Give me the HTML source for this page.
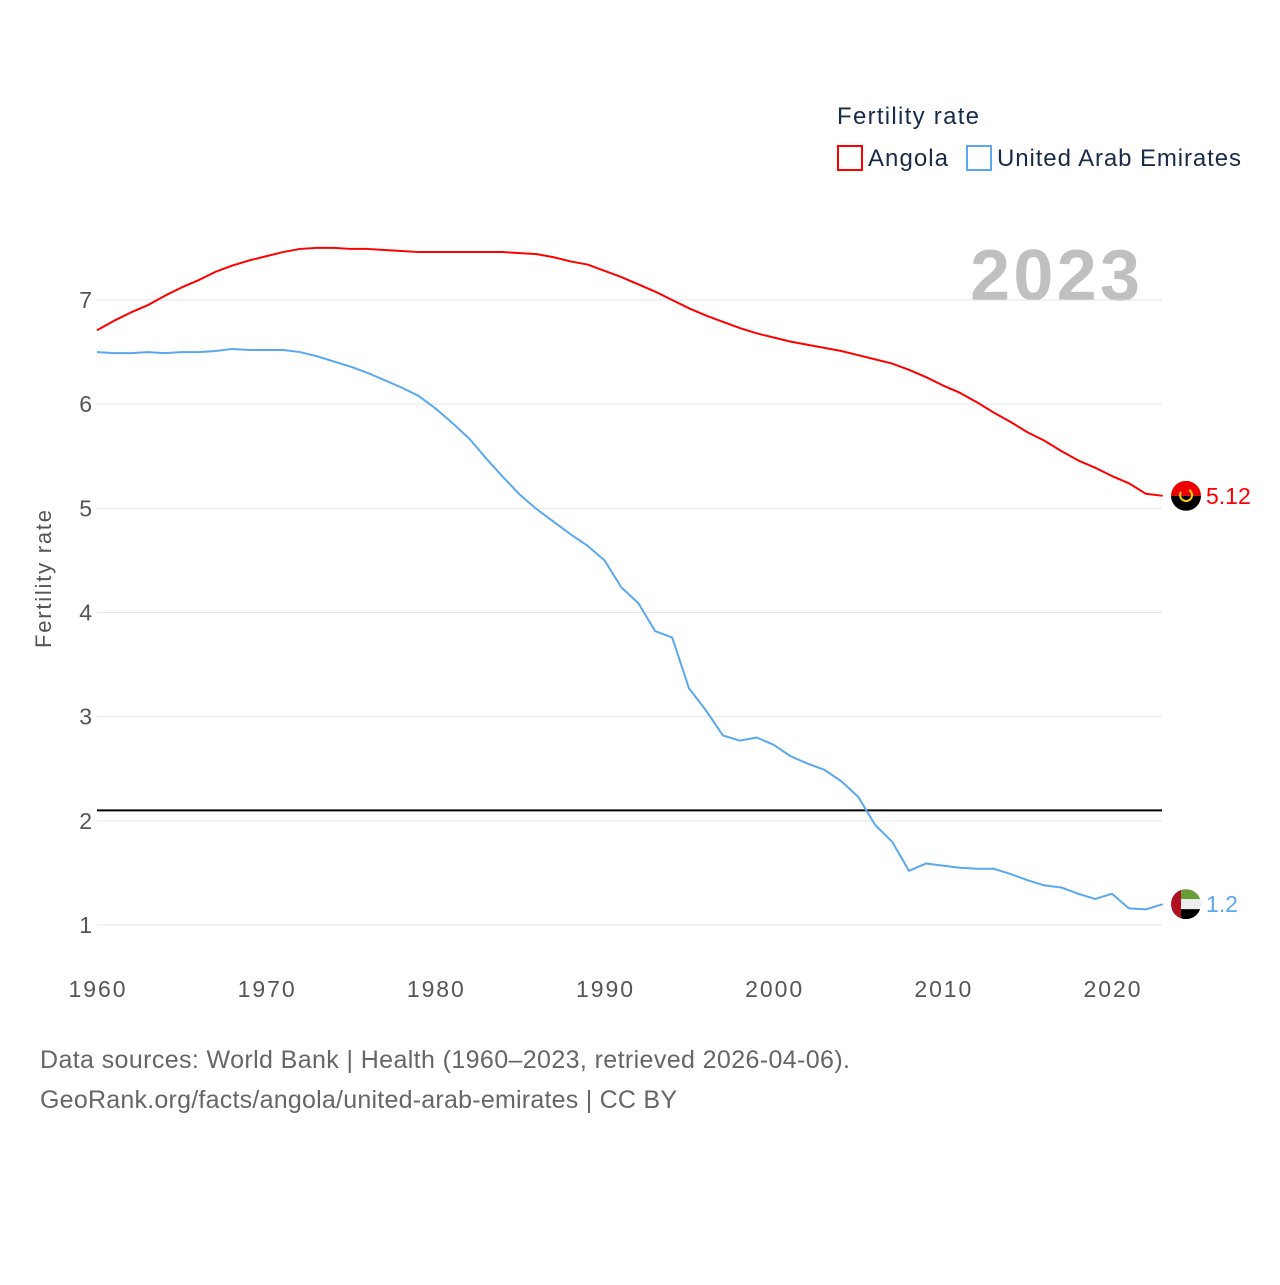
<!DOCTYPE html>
<html><head><meta charset="utf-8"><style>
body{margin:0;background:#fff;font-family:"Liberation Sans",sans-serif}
svg text{font-family:"Liberation Sans",sans-serif}
</style></head><body>
<svg id="chart" width="1280" height="1280" viewBox="0 0 1280 1280">
<text x="837" y="124" font-size="24" fill="#1a2b4a" textLength="142">Fertility rate</text>
<g><rect x="838" y="146" width="24" height="24" fill="none" stroke="#f00" stroke-width="2"/><text x="868" y="166" font-size="24" fill="#1a2b4a" textLength="80">Angola</text></g>
<g><rect x="967" y="146" width="24" height="24" fill="none" stroke="#5aa8ef" stroke-width="2"/><text x="997" y="166" font-size="24" fill="#1a2b4a" textLength="244">United Arab Emirates</text></g>
<text x="970" y="300" font-size="72" font-weight="bold" fill="#c0c0c0" textLength="170">2023</text>
<text transform="translate(51,579) rotate(-90)" font-size="22" fill="#555" text-anchor="middle" textLength="138">Fertility rate</text>
<g id="grid"></g><g id="lines"></g>
<text x="40" y="1068" font-size="25" fill="#666" textLength="810">Data sources: World Bank | Health (1960–2023, retrieved 2026-04-06).</text>
<text x="40" y="1108" font-size="25" fill="#666" textLength="637">GeoRank.org/facts/angola/united-arab-emirates | CC BY</text>
</svg>
<script>
const years=[];for(let y=1960;y<=2023;y++)years.push(y);
const angola=[6.71,6.80,6.88,6.95,7.04,7.12,7.19,7.27,7.33,7.38,7.42,7.46,7.49,7.50,7.50,7.49,7.49,7.48,7.47,7.46,7.46,7.46,7.46,7.46,7.46,7.45,7.44,7.41,7.37,7.34,7.28,7.22,7.15,7.08,7.00,6.92,6.85,6.79,6.73,6.68,6.64,6.60,6.57,6.54,6.51,6.47,6.43,6.39,6.33,6.26,6.18,6.11,6.02,5.92,5.83,5.73,5.65,5.55,5.46,5.39,5.31,5.24,5.14,5.12];
const uae=[6.50,6.49,6.49,6.50,6.49,6.50,6.50,6.51,6.53,6.52,6.52,6.52,6.50,6.46,6.41,6.36,6.30,6.23,6.16,6.08,5.96,5.82,5.67,5.48,5.30,5.13,4.99,4.87,4.75,4.64,4.50,4.24,4.09,3.82,3.76,3.27,3.06,2.82,2.77,2.80,2.73,2.62,2.55,2.49,2.38,2.23,1.96,1.80,1.52,1.59,1.57,1.55,1.54,1.54,1.49,1.43,1.38,1.36,1.30,1.25,1.30,1.16,1.15,1.20];
const yTicks=[1,2,3,4,5,6,7];
const xTicks=[1960,1970,1980,1990,2000,2010,2020];
const replacement=2.1;
const NS="http://www.w3.org/2000/svg";
const X=yr=>97+(yr-1960)*(1015/60);
const Y=v=>925-(v-1)*104.17;
function mk(tag,attrs,parent){const e=document.createElementNS(NS,tag);for(const k in attrs)e.setAttribute(k,attrs[k]);parent.appendChild(e);return e;}
const grid=document.getElementById('grid'),lines=document.getElementById('lines');
yTicks.forEach(t=>{
 const l=mk('line',{x1:97,x2:1162,y1:Y(t),y2:Y(t),stroke:'#e6e6e6','stroke-width':1},grid);
 
 
 const tx=mk('text',{x:92,y:Y(t)+8,'font-size':23,fill:'#555','text-anchor':'end'},grid);tx.textContent=t;
 
 
});
xTicks.forEach(t=>{
 const tx=mk('text',{x:X(t),y:997,'font-size':23,fill:'#555','text-anchor':'middle',textLength:57},grid);tx.textContent=t;
 
 
});
const rl=mk('line',{x1:97,x2:1162,y1:Y(replacement),y2:Y(replacement),stroke:'#000','stroke-width':2},lines);


function series(vals,color,name){
 const p=mk('polyline',{points:vals.map((v,i)=>X(years[i])+','+Y(v)).join(' '),fill:'none',stroke:color,'stroke-width':2,'stroke-linejoin':'round'},lines);
 
 
}
series(uae,'#5aa8ef','uae-line');
series(angola,'#f00','angola-line');
function flag(v,kind,label,color,name){
 const cx=1186,cy=Y(v);
 const g=mk('g',{},lines);
 
 
 const cid='c'+kind;
 const cp=mk('clipPath',{id:cid},g);mk('circle',{cx:cx,cy:cy,r:15},cp);
 const f=mk('g',{'clip-path':'url(#'+cid+')'},g);
 if(kind==='ao'){mk('rect',{x:cx-15,y:cy-15,width:30,height:15,fill:'#e00'},f);mk('rect',{x:cx-15,y:cy,width:30,height:15,fill:'#000'},f);mk('path',{d:'M'+(cx-5)+' '+(cy-4)+' a6 6 0 1 0 8 -2',fill:'none',stroke:'#fc0','stroke-width':2},f);}
 else{mk('rect',{x:cx-15,y:cy-15,width:30,height:10,fill:'#6a9d3a'},f);mk('rect',{x:cx-15,y:cy-5,width:30,height:10,fill:'#eee'},f);mk('rect',{x:cx-15,y:cy+5,width:30,height:10,fill:'#000'},f);mk('rect',{x:cx-15,y:cy-15,width:10,height:30,fill:'#b01020'},f);}
 const t=mk('text',{x:1206,y:cy+8,'font-size':23,fill:color},g);t.textContent=label;
}
flag(angola[angola.length-1],'ao','5.12','#f00','angola-end-label');
flag(uae[uae.length-1],'ae','1.2','#5aa8ef','uae-end-label');
</script>
</body></html>
